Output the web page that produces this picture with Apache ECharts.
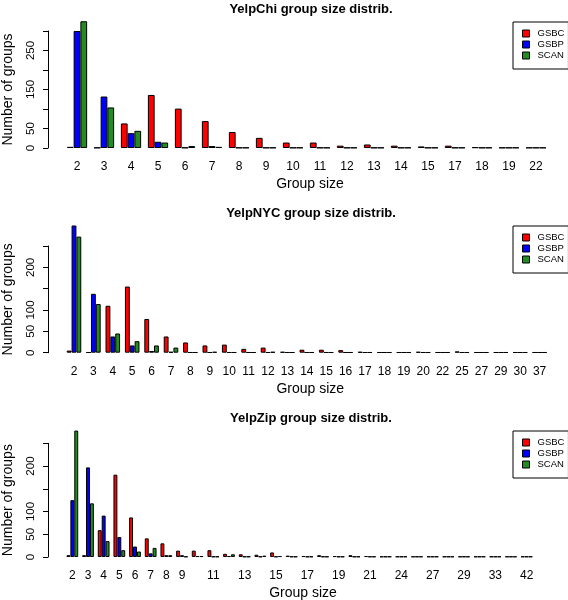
<!DOCTYPE html>
<html><head><meta charset="utf-8">
<script src="https://cdn.jsdelivr.net/npm/echarts@6/dist/echarts.min.js"></script>
<style>html,body{margin:0;padding:0;background:#fff}#c{width:568px;height:600px}</style>
</head><body><div id="c"></div>
<script>
// ---- Data ----
const seriesNames = ['GSBC', 'GSBP', 'SCAN'];
const seriesColors = ['#FF0000', '#0000FF', '#228B22'];

const chiTitle = 'YelpChi group size distrib.';
const chiSizes = ['2','3','4','5','6','7','8','9','10','11','12','13','14','15','17','18','19','22'];
const chiGSBC = [3, 1, 63, 136, 101, 69, 41, 26, 14, 14, 6, 9, 6, 4, 6, 2, 1, 1];
const chiGSBP = [300, 132, 38, 16, 1, 5, 1, 1, 1, 1, 1, 1, 1, 1, 1, 1, 1, 1];
const chiSCAN = [325, 104, 44, 14, 5, 3, 1, 1, 1, 1, 1, 1, 1, 1, 1, 1, 1, 1];
const chiYTicksShown = [0, 50, 150, 250];
const chiYMax = 300;

const nycTitle = 'YelpNYC group size distrib.';
const nycSizes = ['2','3','4','5','6','7','8','9','10','11','12','13','14','15','16','17','18','19','20','22','25','27','29','30','37'];
const nycGSBC = [5, 1, 110, 155, 79, 38, 24, 17, 19, 9, 12, 2, 7, 7, 6, 2, 1, 1, 2, 1, 3, 1, 1, 1, 1];
const nycGSBP = [298, 138, 38, 17, 4, 2, 1, 1, 1, 1, 1, 1, 1, 1, 1, 1, 1, 1, 1, 1, 1, 1, 1, 1, 1];
const nycSCAN = [272, 114, 45, 27, 17, 12, 1, 2, 1, 1, 2, 1, 1, 1, 1, 1, 1, 1, 1, 1, 1, 1, 1, 1, 1];
const nycYTicksShown = [0, 50, 100, 200];
const nycYMax = 250;

const zipTitle = 'YelpZip group size distrib.';
const zipSizes = ['2','3','4','5','6','7','8','9','10','11','12','13','14','15','16','17','18','19','20','21','22','24','25','27','28','29','31','33','36','42'];
const zipGSBC = [4, 4, 59, 181, 87, 41, 30, 14, 14, 15, 7, 6, 5, 10, 3, 2, 4, 2, 4, 2, 1, 1, 1, 1, 1, 1, 1, 1, 1, 1];
const zipGSBP = [125, 197, 91, 44, 23, 8, 4, 4, 2, 1, 2, 1, 1, 1, 1, 1, 1, 1, 1, 1, 1, 1, 1, 1, 1, 1, 1, 1, 1, 1];
const zipSCAN = [278, 118, 35, 15, 12, 20, 4, 1, 2, 1, 6, 1, 3, 2, 1, 1, 1, 1, 1, 1, 1, 1, 1, 1, 1, 1, 1, 1, 1, 1];
const zipXShown = ['2','3','4','5','6','7','8','9','11','13','15','17','19','21','24','27','29','33','42'];
const zipYTicksShown = [0, 50, 100, 200];
const zipYMax = 250;

const xName = 'Group size';
const yName = 'Number of groups';

// ---- Layout / style ----
const FONT = '"Liberation Sans", Arial, Helvetica, sans-serif';
const panels = [
  {title: chiTitle, cats: chiSizes, data: [chiGSBC, chiGSBP, chiSCAN], yShown: chiYTicksShown, yMax: chiYMax, xShown: null,
   grid: {left: 63.5, top: 31, width: 486, height: 117}, titleTop: 3, legendTop: 22},
  {title: nycTitle, cats: nycSizes, data: [nycGSBC, nycGSBP, nycSCAN], yShown: nycYTicksShown, yMax: nycYMax, xShown: null,
   grid: {left: 64.3, top: 246, width: 485, height: 106.7}, titleTop: 207, legendTop: 226},
  {title: zipTitle, cats: zipSizes, data: [zipGSBC, zipGSBP, zipSCAN], yShown: zipYTicksShown, yMax: zipYMax, xShown: zipXShown,
   grid: {left: 64.5, top: 443.3, width: 470, height: 113.7}, titleTop: 412, legendTop: 431}
];
const axisX = 48;

const option = {
  animation: false,
  backgroundColor: '#fff',
  textStyle: {fontFamily: FONT},
  title: [], legend: [], grid: [], xAxis: [], yAxis: [], series: []
};

panels.forEach((p, i) => {
  option.title.push({
    text: p.title, left: 311, top: p.titleTop, textAlign: 'center', padding: 0,
    textStyle: {fontFamily: FONT, fontSize: 13, fontWeight: 'bold', color: '#000'}
  });
  option.legend.push({
    data: seriesNames, orient: 'vertical', left: 513, top: p.legendTop,
    padding: [6, 4, 8, 9], itemGap: 0, itemWidth: 7, itemHeight: 7, icon: 'rect',
    borderColor: '#000', borderWidth: 1, backgroundColor: '#fff',
    itemStyle: {borderColor: '#000', borderWidth: 1},
    textStyle: {fontFamily: FONT, fontSize: 9.5, lineHeight: 11, color: '#000', padding: [0, 0, 0, 3]}
  });
  option.grid.push(Object.assign({containLabel: false, outerBoundsMode: 'none'}, p.grid));
  option.xAxis.push({
    type: 'category', gridIndex: i, data: p.cats,
    axisLine: {show: false}, axisTick: {show: false}, splitLine: {show: false},
    axisLabel: {
      interval: 0, margin: 13, color: '#000', fontFamily: FONT, fontSize: 12,
      formatter: p.xShown ? (v => p.xShown.indexOf(v) >= 0 ? v : '') : (v => v)
    },
    name: xName, nameLocation: 'middle', nameGap: 29,
    nameTextStyle: {fontFamily: FONT, fontSize: 14, color: '#000', padding: [0, 0, 0, 7]}
  });
  option.yAxis.push({
    type: 'value', gridIndex: i, min: 0, max: p.yMax, interval: 50,
    offset: p.grid.left - axisX,
    axisLine: {show: true, lineStyle: {color: '#000', width: 1}},
    axisTick: {show: true, length: 5, lineStyle: {color: '#000'}},
    splitLine: {show: false},
    axisLabel: {
      rotate: 90, margin: 11, color: '#000', fontFamily: FONT, fontSize: 11.5,
      formatter: v => p.yShown.indexOf(v) >= 0 ? String(v) : ''
    },
    name: yName, nameLocation: 'middle', nameGap: 33,
    nameTextStyle: {fontFamily: FONT, fontSize: 14, color: '#000'}
  });
  seriesNames.forEach((s, k) => {
    option.series.push({
      type: 'bar', name: s, xAxisIndex: i, yAxisIndex: i, data: p.data[k],
      clip: false, barGap: '0%', barCategoryGap: '25%',
      itemStyle: {color: seriesColors[k], borderColor: '#000', borderWidth: 1},
      emphasis: {disabled: true}
    });
  });
});

const chart = echarts.init(document.getElementById('c'), null, {renderer: 'canvas'});
chart.setOption(option);
</script>
</body></html>
